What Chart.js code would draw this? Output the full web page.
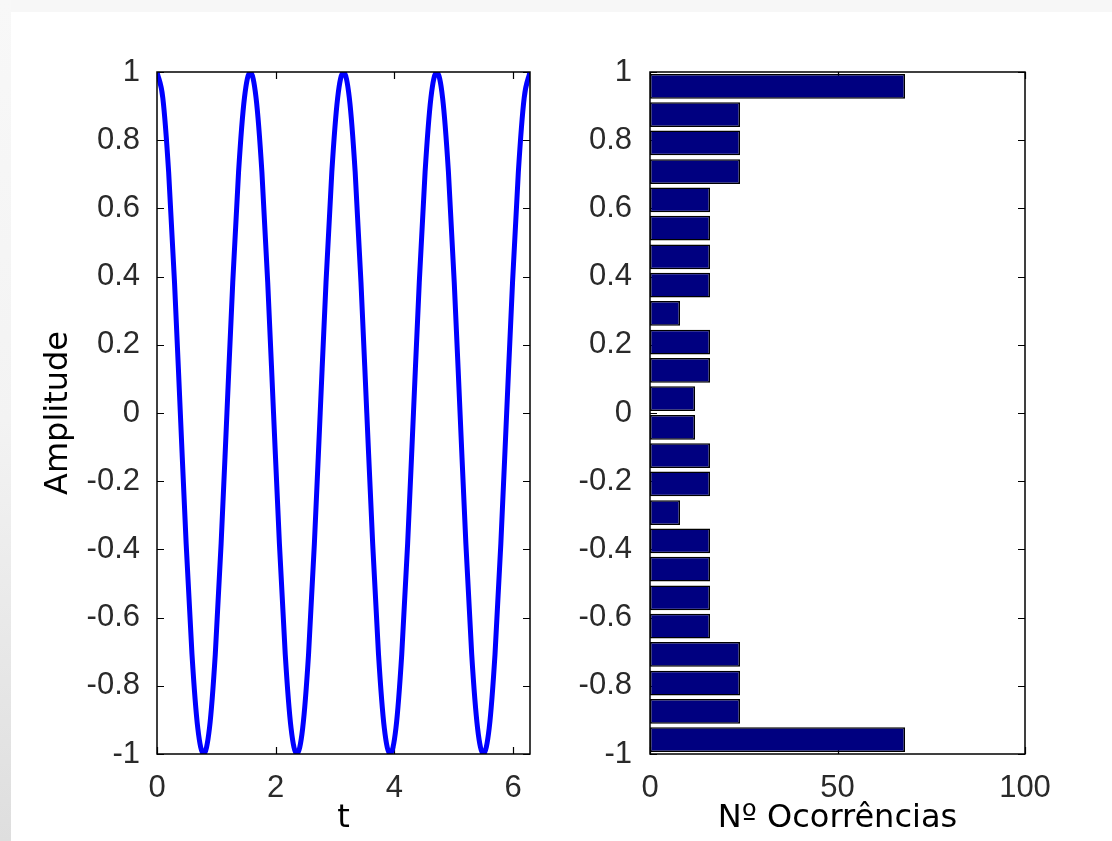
<!DOCTYPE html>
<html>
<head>
<meta charset="utf-8">
<script src="https://cdn.jsdelivr.net/npm/chart.js@4/dist/chart.umd.min.js"></script>
<style>
  html, body { margin: 0; padding: 0; background: #fff; }
  body { width: 1112px; height: 841px; position: relative; overflow: hidden; }
  #topStrip { position: absolute; left: 0; top: 0; width: 1112px; height: 12px; background: #f7f7f7; }
  #leftStrip { position: absolute; left: 0; top: 0; width: 11px; height: 841px;
    background: linear-gradient(#f8f8f8, #f3f3f3 50%, #dedede); }
  #waveChart { position: absolute; left: 0; top: 0; }
  #histChart { position: absolute; left: 560px; top: 0; }
</style>
</head>
<body>
<div id="topStrip"></div>
<div id="leftStrip"></div>
<canvas id="waveChart" width="560" height="841"></canvas>
<canvas id="histChart" width="552" height="841"></canvas>
<script>
// signal (time, amplitude)
var tValues = [0, 0.098, 0.196, 0.295, 0.393, 0.491, 0.589, 0.687, 0.785, 0.884, 0.982, 1.080, 1.178,
  1.276, 1.374, 1.473, 1.571, 1.669, 1.767, 1.865, 1.963, 2.062, 2.160, 2.258, 2.356, 2.454, 2.553,
  2.651, 2.749, 2.847, 2.945, 3.043, 3.142, 3.240, 3.338, 3.436, 3.534, 3.633, 3.731, 3.829, 3.927,
  4.025, 4.123, 4.222, 4.320, 4.418, 4.516, 4.614, 4.712, 4.811, 4.909, 5.007, 5.105, 5.203, 5.301,
  5.400, 5.498, 5.596, 5.694, 5.792, 5.890, 5.989, 6.087, 6.185, 6.283];
var amplitude = [1, 0.924, 0.707, 0.383, 0, -0.383, -0.707, -0.924, -1, -0.924, -0.707, -0.383, 0, 0.383, 0.707, 0.924,
  1, 0.924, 0.707, 0.383, 0, -0.383, -0.707, -0.924, -1, -0.924, -0.707, -0.383, 0, 0.383, 0.707, 0.924,
  1, 0.924, 0.707, 0.383, 0, -0.383, -0.707, -0.924, -1, -0.924, -0.707, -0.383, 0, 0.383, 0.707, 0.924,
  1, 0.924, 0.707, 0.383, 0, -0.383, -0.707, -0.924, -1, -0.924, -0.707, -0.383, 0, 0.383, 0.707, 0.924, 1];

// histogram (bin centres, counts)
var binCenters = [-0.958, -0.875, -0.792, -0.708, -0.625, -0.542, -0.458, -0.375, -0.292, -0.208, -0.125, -0.042,
  0.042, 0.125, 0.208, 0.292, 0.375, 0.458, 0.542, 0.625, 0.708, 0.792, 0.875, 0.958];
var binCounts = [68, 24, 24, 24, 16, 16, 16, 16, 8, 16, 16, 12, 12, 16, 16, 8, 16, 16, 16, 16, 24, 24, 24, 68];

var tickFont = { family: "'Liberation Sans', Arial, sans-serif", size: 31 };
var labelFont = { family: "'DejaVu Sans', sans-serif", size: 32 };
var tickColor = "#2a2a2a";

function fmt(v) {
    var s = Number(v.toFixed(1)).toString();
    return s === "-0" ? "0" : s;
}

// matlab style box: ticks inside on all four sides + black frame
var boxPlugin = {
    id: "matlabBox",
    beforeDatasetsDraw: function (chart) {
        var ctx = chart.ctx, a = chart.chartArea, len = 7;
        var xs = chart.scales.x, ys = chart.scales.y;
        ctx.save();
        ctx.strokeStyle = "#000";
        ctx.lineWidth = 1.2;
        ctx.beginPath();
        xs.ticks.forEach(function (t, i) {
            var px = Math.round(xs.getPixelForTick(i)) + 0.5;
            ctx.moveTo(px, a.bottom); ctx.lineTo(px, a.bottom - len);
            ctx.moveTo(px, a.top); ctx.lineTo(px, a.top + len);
        });
        ys.ticks.forEach(function (t, i) {
            var py = Math.round(ys.getPixelForTick(i)) + 0.5;
            ctx.moveTo(a.left, py); ctx.lineTo(a.left + len, py);
            ctx.moveTo(a.right, py); ctx.lineTo(a.right - len, py);
        });
        ctx.stroke();
        ctx.restore();
    },
    afterDatasetsDraw: function (chart) {
        var ctx = chart.ctx, a = chart.chartArea;
        ctx.save();
        ctx.strokeStyle = "#000";
        ctx.lineWidth = 1.5;
        ctx.strokeRect(a.left, a.top, a.right - a.left, a.bottom - a.top);
        ctx.restore();
    }
};

var wavePoints = [];
for (var i = 0; i < tValues.length; i++) {
    wavePoints.push({ x: tValues[i], y: amplitude[i] });
}

new Chart(document.getElementById("waveChart").getContext("2d"), {
    type: "line",
    data: {
        datasets: [{
            data: wavePoints,
            borderColor: "#0000ff",
            borderWidth: 5,
            pointRadius: 0,
            fill: false,
            cubicInterpolationMode: "monotone",
            clip: 0
        }]
    },
    options: {
        responsive: false,
        animation: false,
        layout: { padding: { left: 39, top: 72, right: 30, bottom: 0 } },
        plugins: { legend: { display: false }, tooltip: { enabled: false } },
        scales: {
            x: {
                type: "linear", min: 0, max: 6.2832,
                grid: { display: false }, border: { display: false },
                ticks: { stepSize: 2, includeBounds: false, font: tickFont, color: tickColor, padding: 8, maxRotation: 0 },
                title: { display: true, text: "t", font: labelFont, color: "#000", padding: { top: 0, bottom: 3 } },
                afterFit: function (s) { s.height = 87; }
            },
            y: {
                type: "linear", min: -1, max: 1,
                grid: { display: false }, border: { display: false },
                ticks: { stepSize: 0.2, font: tickFont, color: tickColor, padding: 9, callback: fmt },
                title: { display: true, text: "Amplitude", font: labelFont, color: "#000", padding: { top: 0, bottom: 0 } },
                afterFit: function (s) { s.width = 118; }
            }
        }
    },
    plugins: [boxPlugin]
});

var histPoints = [];
for (var j = 0; j < binCenters.length; j++) {
    histPoints.push({ x: binCounts[j], y: binCenters[j] });
}

new Chart(document.getElementById("histChart").getContext("2d"), {
    type: "bar",
    data: {
        datasets: [{
            data: histPoints,
            backgroundColor: "#000080",
            borderColor: "#000",
            borderWidth: 1.5,
            borderSkipped: false,
            categoryPercentage: 1,
            barPercentage: 0.87
        }]
    },
    options: {
        indexAxis: "y",
        responsive: false,
        animation: false,
        layout: { padding: { left: 0, top: 72, right: 87, bottom: 0 } },
        plugins: { legend: { display: false }, tooltip: { enabled: false } },
        scales: {
            x: {
                type: "linear", min: 0, max: 100,
                grid: { display: false }, border: { display: false },
                ticks: { stepSize: 50, font: tickFont, color: tickColor, padding: 8, maxRotation: 0 },
                title: { display: true, text: "Nº Ocorrências", font: labelFont, color: "#000", padding: { top: 0, bottom: 3 } },
                afterFit: function (s) { s.height = 87; }
            },
            y: {
                type: "linear", min: -1, max: 1, offset: false,
                grid: { display: false, offset: false }, border: { display: false },
                ticks: { stepSize: 0.2, font: tickFont, color: tickColor, padding: 10, callback: fmt },
                afterFit: function (s) { s.width = 90; }
            }
        }
    },
    plugins: [boxPlugin]
});
</script>
</body>
</html>
